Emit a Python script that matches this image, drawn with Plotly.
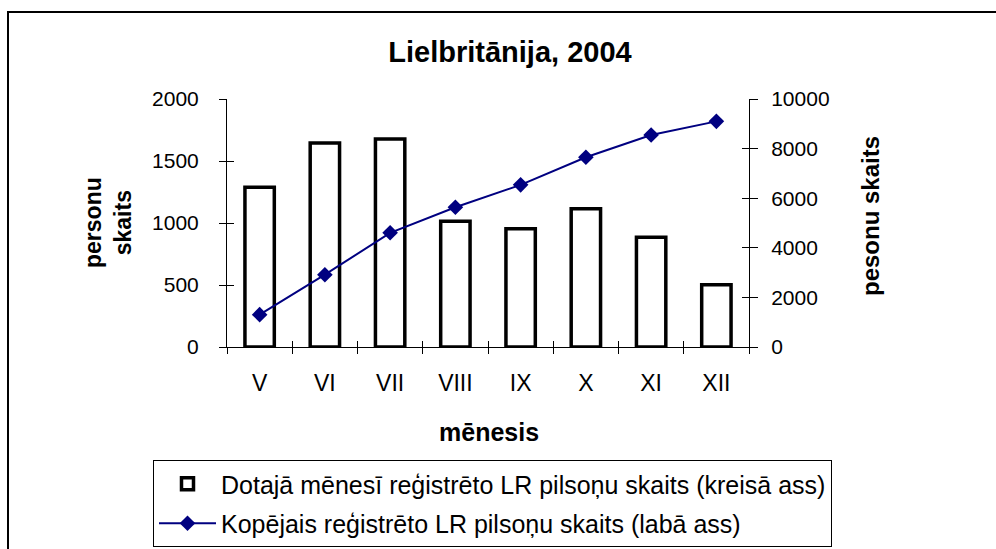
import plotly.graph_objects as go

months = ["V", "VI", "VII", "VIII", "IX", "X", "XI", "XII"]
monthly = [1288, 1646, 1678, 1014, 953, 1114, 886, 502]
cumulative = [1304, 2915, 4605, 5636, 6538, 7649, 8551, 9098]
left_ticks = [0, 500, 1000, 1500, 2000]
right_ticks = [0, 2000, 4000, 6000, 8000, 10000]

title_text = "Lielbritānija, 2004"
bar_name = "Dotajā mēnesī reģistrēto LR pilsoņu skaits (kreisā ass)"
line_name = "Kopējais reģistrēto LR pilsoņu skaits (labā ass)"

W, H = 996, 549
L, R, T, B = 227, 749, 99, 347
pw, ph = R - L, B - T

def px(x):
    return (x - L) / pw

def py(y):
    return (B - y) / ph

FONT = "Liberation Sans, Arial, sans-serif"

fig = go.Figure()
fig.add_trace(go.Bar(
    x=months, y=monthly, name=bar_name, width=0.45,
    marker=dict(color="white", line=dict(color="black", width=3.5)),
    yaxis="y", legendgroup="a",
))
fig.add_trace(go.Scatter(
    x=months, y=cumulative, name=line_name, mode="lines+markers",
    line=dict(color="#000080", width=2),
    marker=dict(symbol="diamond", size=12, color="#000080"),
    yaxis="y2", legendgroup="b",
))

axis_common = dict(showgrid=False, zeroline=False, color="black")
ytickfont = dict(family=FONT, size=21, color="black")

fig.update_layout(
    width=W, height=H,
    margin=dict(l=L, r=W - R, t=T, b=H - B, autoexpand=False),
    paper_bgcolor="white", plot_bgcolor="white",
    font=dict(family=FONT, color="black"),
    showlegend=True,
    title=dict(text="<b>" + title_text + "</b>", x=510 / W, xref="container",
               xanchor="center", y=1 - 52 / H, yref="container", yanchor="middle",
               font=dict(family=FONT, size=29, color="black")),
    xaxis=dict(type="category", range=[-0.5, 7.5], showline=True, linewidth=1,
               linecolor="black", ticks="outside", ticklen=6, tickcolor="black",
               tickson="boundaries", ticklabelstandoff=15, automargin=False,
               tickfont=dict(family=FONT, size=23, color="black"), **axis_common),
    xaxis2=dict(overlaying="x", type="linear", range=[-0.5, 7.5], showline=False,
                ticks="inside", ticklen=6, tickcolor="black",
                tickvals=[i - 0.5 for i in range(9)], showticklabels=False,
                showgrid=False, zeroline=False, side="bottom", anchor="y"),
    yaxis=dict(range=[0, 2000], tickvals=left_ticks, showline=True, linewidth=1,
               linecolor="black", ticks="outside", ticklen=7, tickcolor="black",
               ticklabelstandoff=16, tickformat="d", tickfont=ytickfont,
               automargin=False, **axis_common),
    yaxis2=dict(range=[0, 10000], tickvals=right_ticks, overlaying="y", side="right",
                showline=True, linewidth=1, linecolor="black", ticks="outside",
                ticklen=8, tickcolor="black", ticklabelstandoff=9, tickformat="d",
                tickfont=ytickfont, automargin=False, **axis_common),
    yaxis3=dict(range=[0, 2000], tickvals=left_ticks, overlaying="y", side="left",
                ticks="inside", ticklen=7, tickcolor="black", showticklabels=False,
                showline=False, showgrid=False, zeroline=False, anchor="x"),
    yaxis4=dict(range=[0, 10000], tickvals=right_ticks, overlaying="y", side="right",
                ticks="inside", ticklen=7, tickcolor="black", showticklabels=False,
                showline=False, showgrid=False, zeroline=False, anchor="x"),
    legend=dict(x=px(153), y=py(460), xanchor="left", yanchor="top",
                bordercolor="black", borderwidth=1, bgcolor="white",
                font=dict(family=FONT, size=25, color="black"),
                traceorder="grouped", tracegroupgap=4, itemwidth=57),
    bargap=0.55,
)

# invisible helper traces so overlay axes render
fig.add_trace(go.Scatter(x=[0], y=[0], xaxis="x2", yaxis="y3", mode="markers",
                         marker=dict(opacity=0), showlegend=False, hoverinfo="skip"))
fig.add_trace(go.Scatter(x=[0], y=[0], xaxis="x", yaxis="y4", mode="markers",
                         marker=dict(opacity=0), showlegend=False, hoverinfo="skip"))

annots = [
    dict(text="<b>personu<br>skaits</b>", x=px(108), y=py(223), textangle=-90,
         font=dict(family=FONT, size=23, color="black")),
    dict(text="<b>pesonu skaits</b>", x=px(870), y=py(216), textangle=-90,
         font=dict(family=FONT, size=24, color="black")),
    dict(text="<b>mēnesis</b>", x=px(489), y=py(432),
         font=dict(family=FONT, size=25, color="black")),
]
for a in annots:
    fig.add_annotation(xref="paper", yref="paper", showarrow=False,
                       xanchor="center", yanchor="middle", **a)

fig.add_shape(type="rect", xref="paper", yref="paper",
              x0=px(8), x1=px(1010), y0=py(560), y1=py(12),
              line=dict(color="black", width=2), fillcolor="rgba(0,0,0,0)",
              layer="below")

fig.write_html("out.html", config={"displayModeBar": False},
               post_script="document.body.style.margin='0px';document.body.style.overflow='hidden';")
